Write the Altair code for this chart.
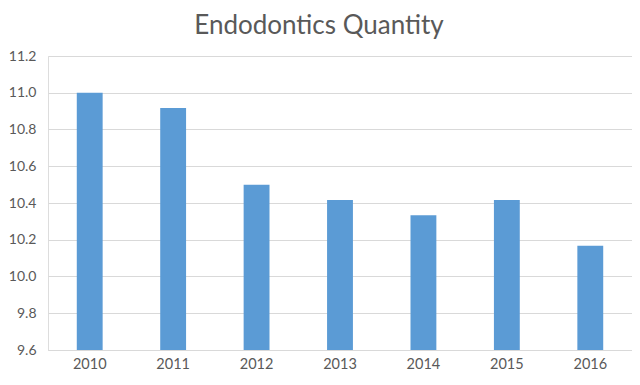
import altair as alt
import pandas as pd

years = ["2010", "2011", "2012", "2013", "2014", "2015", "2016"]
values = [11.0, 10.917, 10.5, 10.417, 10.333, 10.417, 10.167]

df = pd.DataFrame({"year": years, "value": values})

bars = alt.Chart(df).mark_bar(color="#5B9BD5", clip=True).encode(
    x=alt.X("year:N", sort=years, title=None,
            scale=alt.Scale(paddingInner=0.69, paddingOuter=0.345),
            axis=alt.Axis(labelAngle=0, labelFontSize=14.5, labelColor="#595959",
                          labelFont="Lato", ticks=False, domainColor="#D9D9D9",
                          labelPadding=7)),
    y=alt.Y("value:Q", title=None,
            scale=alt.Scale(domain=[9.6, 11.2], nice=False, zero=False),
            axis=alt.Axis(values=[9.6, 9.8, 10.0, 10.2, 10.4, 10.6, 10.8, 11.0, 11.2],
                          format=".1f", labelFontSize=14, labelColor="#595959",
                          labelFont="Lato", ticks=False, domain=False,
                          gridColor="#D9D9D9", labelPadding=12)),
    y2=alt.datum(9.6),
)

chart = bars.properties(
    width=584, height=294,
    autosize=alt.AutoSizeParams(type="none"),
    padding={"left": 40, "top": 48, "right": 0, "bottom": 26},
    title=alt.TitleParams("Endodontics Quantity", fontSize=26, font="Lato",
                          fontWeight="normal", color="#595959", anchor="middle",
                          dx=-21, offset=10),
).configure_view(stroke=None).configure(background="white")

chart.save("out.html", embed_options={"renderer": "svg", "actions": False})
